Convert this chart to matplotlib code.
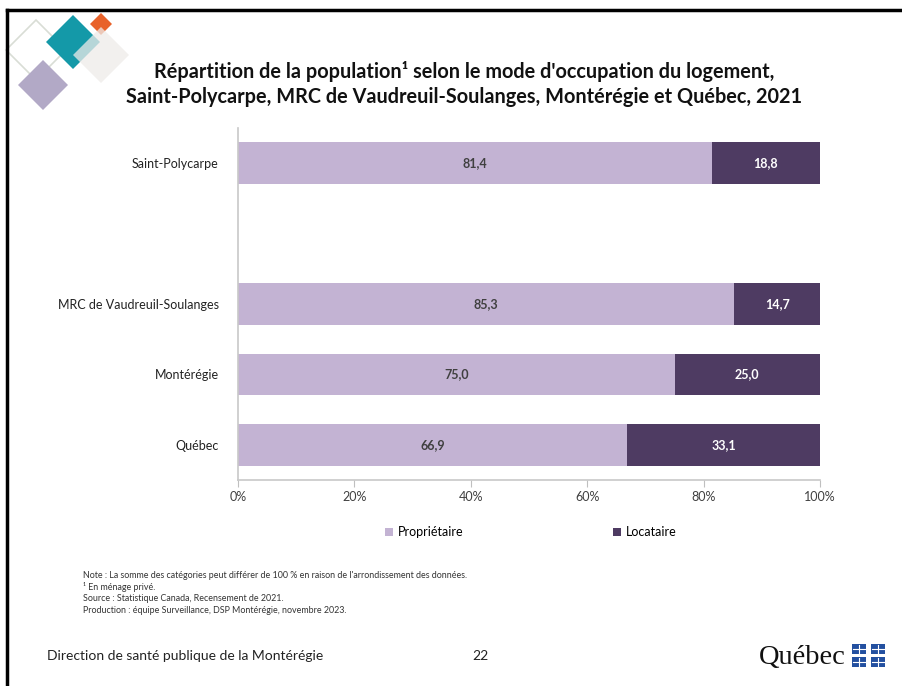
import matplotlib.pyplot as plt
from matplotlib.patches import Polygon, Rectangle
import numpy as np

plt.rcParams['font.family'] = ['Lato', 'DejaVu Sans']

categories = ['Saint-Polycarpe', '', 'MRC de Vaudreuil-Soulanges', 'Montérégie', 'Québec']
proprietaire = [81.4, np.nan, 85.3, 75.0, 66.9]
locataire = [18.8, np.nan, 14.7, 25.0, 33.1]
xticks = [0, 20, 40, 60, 80, 100]
series_names = ['Propriétaire', 'Locataire']

c_prop = '#C3B3D3'
c_loc = '#4E3B62'

fig = plt.figure(figsize=(9.02, 6.86), dpi=100)

# overlay in pixel coordinates for slide decoration
deco = fig.add_axes([0, 0, 1, 1])
deco.set_xlim(0, 902)
deco.set_ylim(686, 0)
deco.axis('off')


def diamond(cx, cy, h, **kw):
    pts = [(cx, cy - h), (cx + h, cy), (cx, cy + h), (cx - h, cy)]
    deco.add_patch(Polygon(pts, closed=True, **kw))


diamond(36, 50, 30, facecolor='none', edgecolor='#D9DDD5', lw=1.2)
diamond(73, 42, 27, facecolor='#1499A8', edgecolor='none')
diamond(101, 24, 11, facecolor='#E8622A', edgecolor='none')
diamond(101, 55, 28, facecolor='#EEEBE9', edgecolor='none', alpha=0.75)
diamond(43, 85, 25, facecolor='#B2A9C6', edgecolor='none')

# slide border (top and left)
deco.plot([7, 902], [10, 10], color='black', lw=2.5)
deco.plot([7, 7], [10, 686], color='black', lw=2.5)

deco.text(464, 72, "Répartition de la population¹ selon le mode d'occupation du logement,",
          ha='center', va='center', fontsize=14.3, fontweight='bold', color='#111111')
deco.text(464, 97, "Saint-Polycarpe, MRC de Vaudreuil-Soulanges, Montérégie et Québec, 2021",
          ha='center', va='center', fontsize=14.3, fontweight='bold', color='#111111')

notes = ["Note : La somme des catégories peut différer de 100 % en raison de l'arrondissement des données.",
         "¹ En ménage privé.",
         "Source : Statistique Canada, Recensement de 2021.",
         "Production : équipe Surveillance, DSP Montérégie, novembre 2023."]
for i, n in enumerate(notes):
    deco.text(83, 575 + i * 11.7, n, ha='left', va='center', fontsize=6.4, color='#333333')

deco.text(47, 656, 'Direction de santé publique de la Montérégie', ha='left', va='center',
          fontsize=10, color='#222222')
deco.text(480, 656, '22', ha='center', va='center', fontsize=10, color='#222222')
deco.text(802, 657, 'Québec', ha='center', va='center', fontsize=20.5,
          family=['Liberation Serif'], color='#111111')
for fx in (852, 871):
    for fy in (644, 657):
        deco.add_patch(Rectangle((fx, fy), 14, 10, facecolor='#2350A0', edgecolor='none'))
        deco.plot([fx + 7, fx + 7], [fy + 1, fy + 9], color='white', lw=0.8)
        deco.plot([fx + 1, fx + 13], [fy + 5, fy + 5], color='white', lw=0.8)

# chart
ax = fig.add_axes([238 / 902, 1 - 480 / 686, 582 / 902, 352 / 686])
y = np.arange(len(categories))
h = 0.59
ax.barh(y, proprietaire, height=h, color=c_prop, label=series_names[0])
ax.barh(y, locataire, left=proprietaire, height=h, color=c_loc, label=series_names[1])

for yi, p, l in zip(y, proprietaire, locataire):
    if np.isnan(p):
        continue
    ax.text(p / 2, yi, f'{p:.1f}'.replace('.', ','), ha='center', va='center',
            fontsize=9, fontweight='bold', color='#404040')
    ax.text(p + (100 - p) / 2, yi, f'{l:.1f}'.replace('.', ','), ha='center', va='center',
            fontsize=9, fontweight='bold', color='white')

ax.set_xlim(0, 100)
ax.set_ylim(4.5, -0.5)
ax.set_xticks(xticks)
ax.set_xticklabels([f'{t}%' for t in xticks], fontsize=9, color='#404040')
ax.set_yticks(y)
ax.set_yticklabels(categories, fontsize=9, color='#222222')
ax.tick_params(axis='y', length=0, pad=14)
ax.tick_params(axis='x', length=5, color='#BFBFBF', pad=3)
for s in ['top', 'right']:
    ax.spines[s].set_visible(False)
for s in ['left', 'bottom']:
    ax.spines[s].set_color('#C8C8C8')
    ax.spines[s].set_linewidth(1.2)
ax.set_facecolor('none')

leg = ax.legend(loc='upper center', bbox_to_anchor=(0.503, -0.1), ncol=2, frameon=False,
                fontsize=9, handlelength=0.6, handleheight=0.6, columnspacing=12,
                handletextpad=0.4)

fig.savefig('out.png', dpi=100)
